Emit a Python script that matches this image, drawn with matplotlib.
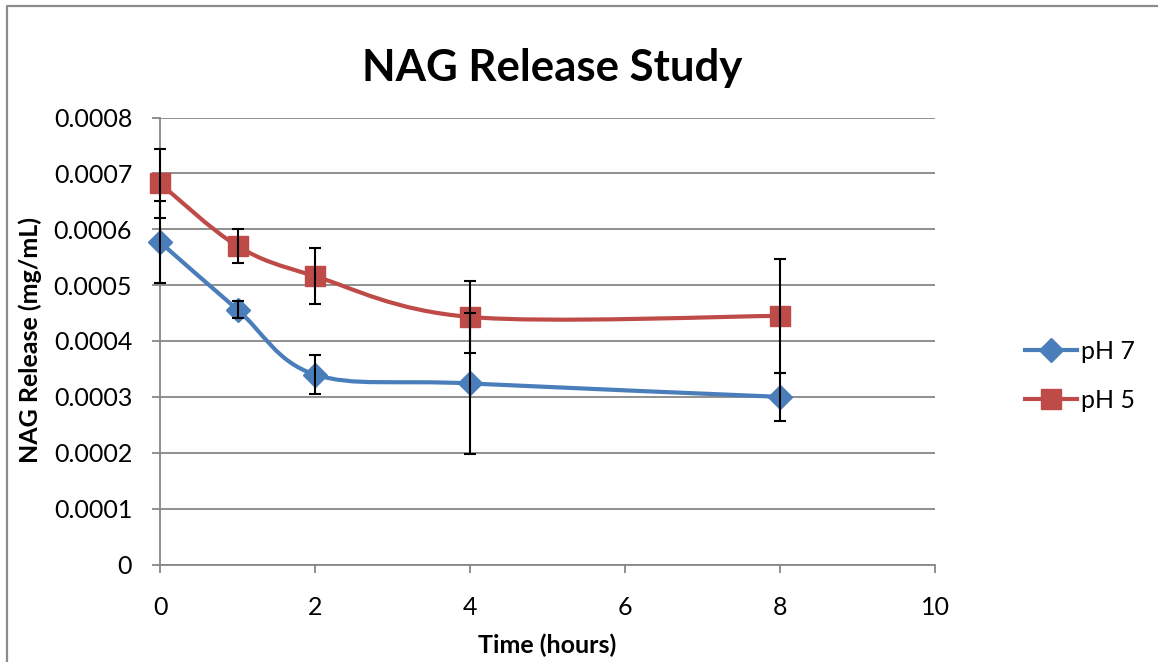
import numpy as np
import matplotlib.pyplot as plt
from matplotlib.path import Path
from matplotlib.patches import PathPatch
from matplotlib.lines import Line2D

plt.rcParams['font.family'] = ['Lato', 'DejaVu Sans']

# data
hours = [0, 1, 2, 4, 8]
ph7 = [0.000577, 0.000456, 0.000340, 0.000324, 0.000300]
ph7_err = [0.000073, 0.000015, 0.000035, 0.000127, 0.000043]
ph5 = [0.000682, 0.000570, 0.000516, 0.000443, 0.000445]
ph5_err = [0.000061, 0.000030, 0.000050, 0.000064, 0.000102]

x_ticks = [0, 2, 4, 6, 8, 10]
y_ticks = [0, 0.0001, 0.0002, 0.0003, 0.0004, 0.0005, 0.0006, 0.0007, 0.0008]
y_labels = ['0', '0.0001', '0.0002', '0.0003', '0.0004', '0.0005', '0.0006', '0.0007', '0.0008']

BLUE = '#4A7EBB'
RED = '#BE4B48'
GRID = '#878787'


def smooth_path(xs, ys):
    # Excel-style smoothed line: Catmull-Rom segments as cubic Bezier curves
    pts = np.column_stack([xs, ys]).astype(float)
    verts = [pts[0]]
    codes = [Path.MOVETO]
    n = len(pts)
    for i in range(n - 1):
        p0 = pts[i - 1] if i > 0 else pts[i]
        p1 = pts[i]
        p2 = pts[i + 1]
        p3 = pts[i + 2] if i + 2 < n else pts[i + 1]
        c1 = p1 + (p2 - p0) / 6.0
        c2 = p2 - (p3 - p1) / 6.0
        verts += [c1, c2, p2]
        codes += [Path.CURVE4] * 3
    return Path(verts, codes)


fig = plt.figure(figsize=(11.58, 6.62), dpi=100)
ax = fig.add_axes([160 / 1158, 1 - 564.5 / 662, 775 / 1158, 447 / 662])

for ys, col in [(ph7, BLUE), (ph5, RED)]:
    ax.add_patch(PathPatch(smooth_path(hours, ys), facecolor='none', edgecolor=col,
                           lw=3.0, capstyle='round', zorder=3, clip_on=False))

ax.plot(hours, ph7, ls='none', marker='D', ms=12, color=BLUE, mec=BLUE, zorder=4, clip_on=False)
ax.plot(hours, ph5, ls='none', marker='s', ms=14, color=RED, mec=RED, zorder=4, clip_on=False)

for ys, err in [(ph7, ph7_err), (ph5, ph5_err)]:
    eb = ax.errorbar(hours, ys, yerr=err, fmt='none', ecolor='black', elinewidth=1.5,
                     capsize=4, capthick=1.5, zorder=5)
    for art in eb.lines[1] + eb.lines[2]:
        art.set_clip_on(False)

ax.set_xlim(0, 10)
ax.set_ylim(0, 0.0008)
ax.set_xticks(x_ticks)
ax.set_yticks(y_ticks)
ax.set_yticklabels(y_labels)
ax.tick_params(axis='both', labelsize=18, colors=GRID, labelcolor='black', length=6, width=1.3, pad=14)
ax.tick_params(axis='x', pad=17)
ax.yaxis.grid(True, color=GRID, lw=1.3)
ax.set_axisbelow(True)
for s in ['top', 'right']:
    ax.spines[s].set_visible(False)
for s in ['left', 'bottom']:
    ax.spines[s].set_color(GRID)
    ax.spines[s].set_linewidth(1.3)

fig.text(552 / 1158, 1 - 68 / 662, 'NAG Release Study', ha='center', va='center',
         fontsize=31.5, fontweight='bold')
fig.text(547 / 1158, 1 - 645 / 662, 'Time (hours)', ha='center', va='center',
         fontsize=18, fontweight='bold')
fig.text(30 / 1158, 1 - 340 / 662, 'NAG Release (mg/mL)', ha='center', va='center',
         fontsize=18, fontweight='bold', rotation=90)

handles = [Line2D([], [], color=BLUE, lw=3, marker='D', ms=12),
           Line2D([], [], color=RED, lw=3, marker='s', ms=14)]
fig.legend(handles, ['pH 7', 'pH 5'], loc='center left', bbox_to_anchor=(1002 / 1158, 1 - 376 / 662),
           frameon=False, fontsize=18, handlelength=2.1, handletextpad=0.15, labelspacing=1.05)

# outer chart border
fig.add_artist(Line2D([7 / 1158, 7 / 1158, 1.0], [0, 1 - 5.5 / 662, 1 - 5.5 / 662],
                      transform=fig.transFigure, color='#8C8C8C', lw=1.6))

fig.savefig('out.png', dpi=100)
